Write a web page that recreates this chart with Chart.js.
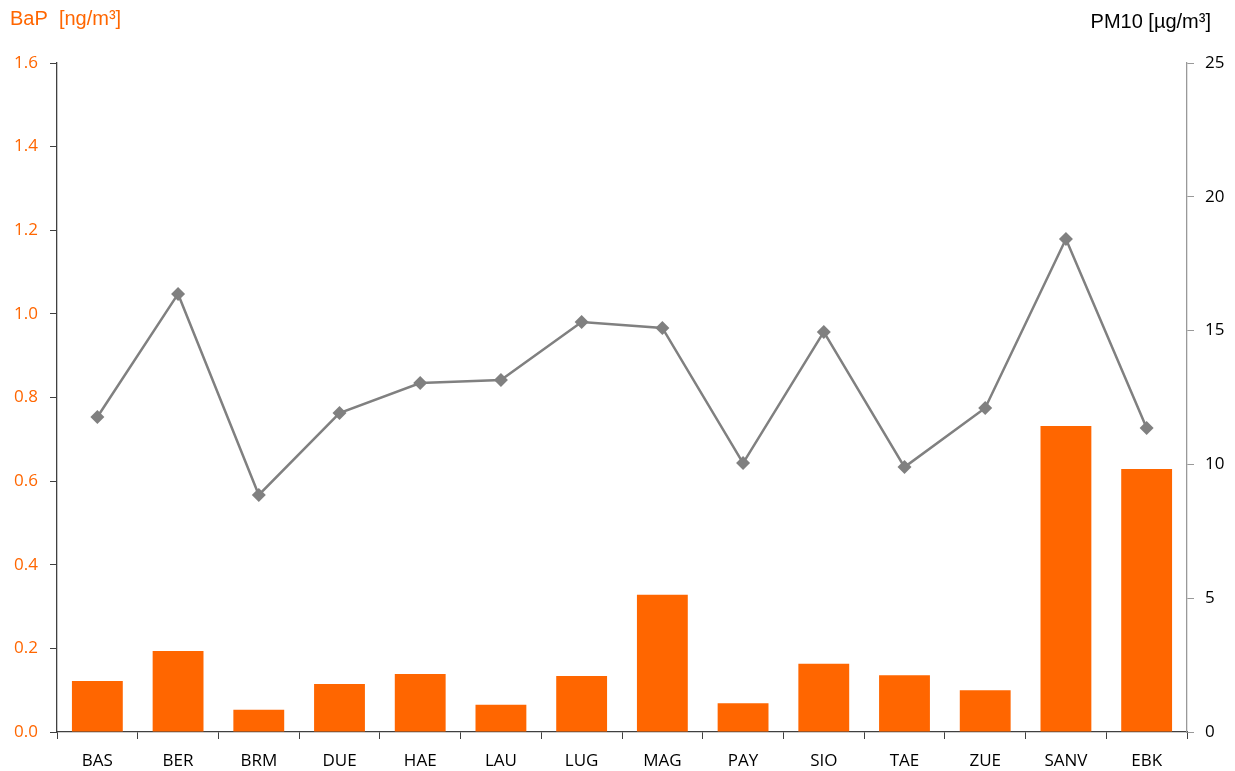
<!DOCTYPE html>
<html>
<head>
<meta charset="utf-8">
<script src="https://cdn.jsdelivr.net/npm/chart.js@4"></script>
<style>
  html, body { margin: 0; padding: 0; background: #fff; }
  canvas { display: block; }
</style>
</head>
<body>
<canvas id="myChart" width="1235" height="771"></canvas>
<script>
const stations = ['BAS', 'BER', 'BRM', 'DUE', 'HAE', 'LAU', 'LUG', 'MAG', 'PAY', 'SIO', 'TAE', 'ZUE', 'SANV', 'EBK'];
const bapValues = [0.122, 0.194, 0.053, 0.115, 0.139, 0.065, 0.134, 0.328, 0.069, 0.163, 0.136, 0.100, 0.732, 0.629];
const pm10Values = [11.77, 16.37, 8.86, 11.92, 13.04, 13.15, 15.32, 15.10, 10.05, 14.95, 9.90, 12.11, 18.42, 11.36];
const bapTitle = 'BaP  [ng/m³]';
const pm10Title = 'PM10 [µg/m³]';

const orange = '#FF6600';
const grey = '#808080';
const tickFont = { family: 'Open Sans', size: 17 };

// axis titles sit above the plot, left one in orange, right one in black
const axisTitles = {
    id: 'axisTitles',
    afterDraw(chart) {
        const ctx = chart.ctx;
        ctx.save();
        ctx.font = '20px "Liberation Sans", Arial, sans-serif';
        ctx.textBaseline = 'alphabetic';
        ctx.fillStyle = orange;
        ctx.textAlign = 'left';
        ctx.fillText(bapTitle, 10, 25);
        ctx.fillStyle = '#000';
        ctx.textAlign = 'right';
        ctx.fillText(pm10Title, 1211, 28);
        ctx.restore();
    }
};

new Chart(document.getElementById('myChart'), {
    data: {
        labels: stations,
        datasets: [{
            type: 'line',
            label: 'PM10',
            data: pm10Values,
            yAxisID: 'y1',
            borderColor: grey,
            borderWidth: 2.5,
            backgroundColor: grey,
            pointStyle: 'rectRot',
            pointRadius: 7,
            pointBorderWidth: 0,
            tension: 0,
            order: 0
        }, {
            type: 'bar',
            label: 'BaP',
            data: bapValues,
            yAxisID: 'y',
            backgroundColor: orange,
            barPercentage: 1,
            categoryPercentage: 0.63,
            order: 1
        }]
    },
    options: {
        responsive: false,
        animation: false,
        layout: { padding: { top: 63, left: 0, right: 0, bottom: 0 } },
        plugins: {
            legend: { display: false },
            tooltip: { enabled: false }
        },
        scales: {
            x: {
                offset: true,
                grid: { drawOnChartArea: false, offset: true, tickLength: 7, color: '#404040', tickColor: '#404040' },
                border: { color: '#404040', width: 1.3 },
                ticks: { color: '#000', font: tickFont, padding: 12, maxRotation: 0 },
                afterFit(scale) { scale.height = 39; }
            },
            y: {
                position: 'left',
                min: 0,
                max: 1.6,
                grid: { drawOnChartArea: false, tickLength: 7, tickColor: '#404040' },
                border: { color: '#404040', width: 1.3 },
                ticks: {
                    stepSize: 0.2,
                    color: orange,
                    font: tickFont,
                    padding: 12,
                    callback: v => v.toFixed(1)
                },
                afterFit(scale) { scale.width = 57; }
            },
            y1: {
                position: 'right',
                min: 0,
                max: 25,
                grid: { drawOnChartArea: false, tickLength: 7, tickColor: '#999' },
                border: { color: '#999', width: 1.3 },
                ticks: { stepSize: 5, color: '#000', font: tickFont, padding: 11 },
                afterFit(scale) { scale.width = 48; }
            }
        }
    },
    plugins: [axisTitles]
});
</script>
</body>
</html>
